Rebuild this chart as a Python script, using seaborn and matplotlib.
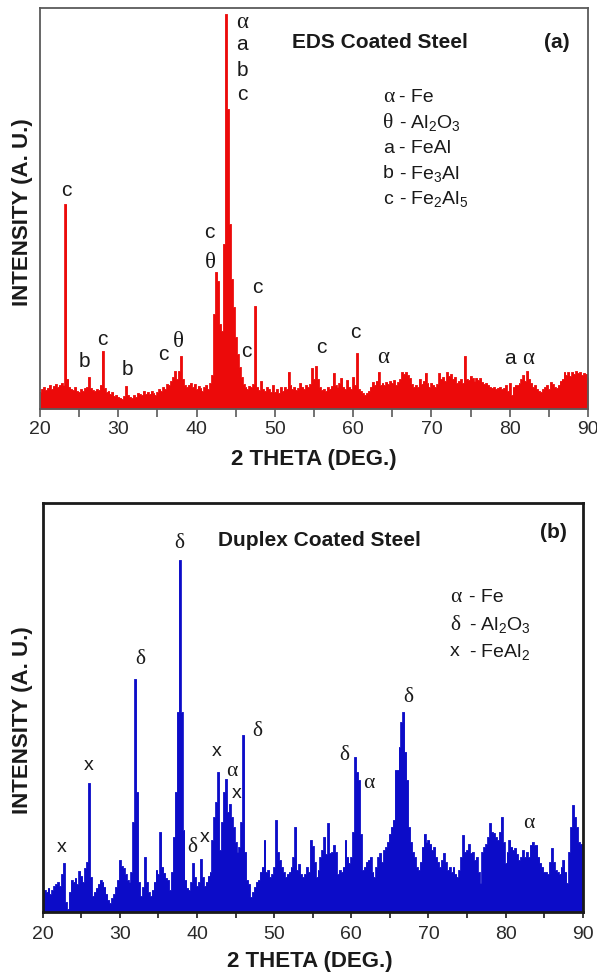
import numpy as np
import pandas as pd
import matplotlib
matplotlib.use("Agg")
import matplotlib.pyplot as plt
from matplotlib.ticker import MultipleLocator
import seaborn as sns

# ---------------- data ----------------
theta = np.arange(20, 90.001, 0.25)          # 2-theta grid (deg)

eds_intensity = [
    17, 20, 22, 19,   21, 24, 20, 23,   25, 22, 24, 26,   24, 205, 30, 22,
    20, 19, 22, 18,   17, 20, 18, 21,   22, 32, 21, 19,   18, 20, 19, 24,
    58, 21, 17, 18,   15, 17, 13, 14,   12, 11, 10, 13,   23, 14, 12, 11,
    14, 12, 16, 15,   14, 18, 15, 17,   15, 18, 16, 14,   17, 20, 18, 22,
    20, 25, 24, 28,   32, 38, 30, 38,   53, 30, 24, 22,   24, 26, 22, 25,
    20, 23, 21, 18,   22, 24, 20, 26,   34, 95, 137, 128, 85, 78, 165, 395,
    300, 185, 130, 102, 72, 55, 42, 32,  25, 22, 20, 23,   22, 25, 103, 22,
    19, 28, 20, 18,   22, 20, 17, 24,   17, 20, 16, 22,   18, 22, 20, 37,
    24, 20, 22, 19,   21, 26, 22, 20,   24, 22, 25, 41,   30, 43, 30, 22,
    19, 20, 18, 22,   20, 23, 36, 24,   22, 26, 31, 22,   20, 29, 22, 20,
    32, 24, 56, 20,   18, 16, 14, 16,   18, 22, 27, 24,   28, 37, 24, 26,
    24, 27, 25, 28,   26, 29, 24, 27,   30, 37, 35, 37,   34, 31, 25, 22,
    24, 22, 30, 25,   28, 36, 26, 22,   26, 24, 22, 25,   36, 30, 32, 28,
    37, 33, 35, 30,   32, 26, 28, 30,   26, 53, 30, 29,   33, 31, 28, 31,
    29, 31, 27, 25,   26, 24, 22, 21,   22, 20, 21, 22,   20, 21, 24, 18,
    26, 14, 22, 24,   24, 26, 30, 34,   28, 38, 30, 26,   22, 24, 20, 18,
    17, 20, 22, 24,   20, 27, 25, 22,   21, 24, 28, 30,   37, 34, 37, 33,
    37, 35, 38, 36,   37, 34, 36, 35,   32,
]

duplex_intensity = [
    19, 22, 20, 24,   18, 22, 26, 28,   30, 26, 38, 49,   10, 3, 20, 32,
    30, 34, 28, 41,   36, 30, 44, 50,   129, 35, 16, 20,  24, 28, 32, 30,
    25, 18, 12, 9,    14, 18, 25, 32,   52, 46, 44, 38,   32, 30, 40, 90,
    233, 120, 30, 16, 25, 55, 30, 20,   16, 22, 30, 42,   38, 80, 45, 39,
    34, 32, 22, 40,   75, 120, 200, 352, 200, 82, 32, 24, 22, 30, 49, 35,
    26, 30, 53, 35,   26, 30, 36, 40,   72, 95, 110, 140, 62, 90, 120, 133,
    100, 108, 95, 85, 70, 60, 65, 90,   177, 60, 32, 28,  15, 20, 25, 30,
    32, 40, 45, 72,   40, 42, 35, 38,   45, 92, 60, 52,   45, 40, 35, 38,
    40, 45, 55, 85,   42, 48, 38, 35,   38, 45, 40, 72,   66, 50, 35, 42,
    55, 62, 75, 58,   89, 59, 60, 67,   60, 38, 42, 40,   45, 72, 55, 49,
    55, 80, 155, 140, 132, 78, 42, 45,  50, 52, 55, 40,   35, 45, 55, 59,
    50, 62, 65, 70,   78, 85, 92, 142,  142, 165, 190, 200, 160, 132, 85, 70,
    60, 55, 45, 42,   50, 65, 78, 70,   72, 68, 62, 65,   55, 50, 45, 52,
    59, 50, 42, 45,   40, 45, 38, 35,   42, 55, 77, 60,   62, 68, 59, 60,
    52, 55, 40, 29,   60, 65, 68, 75,   89, 80, 79, 75,   72, 80, 95, 70,
    49, 60, 72, 65,   62, 64, 58, 52,   55, 62, 55, 60,   55, 67, 70, 67,
    67, 55, 49, 45,   40, 40, 38, 50,   64, 50, 42, 40,   38, 45, 52, 40,
    29, 60, 85, 107,  95, 85, 70, 68,   68,
]

x_ticks = [20, 30, 40, 50, 60, 70, 80, 90]

# peak labels: (text, 2theta, intensity, greek?)
eds_peaks = [
    ("c", 23.32, 219, False), ("b", 25.62, 47, False), ("c", 27.92, 69, False),
    ("b", 31.11, 39, False), ("c", 35.71, 54, False), ("θ", 37.63, 67, True),
    ("c", 41.59, 177, False), ("θ", 41.71, 147, True),
    ("α", 45.80, 387, True), ("a", 45.80, 364, False), ("b", 45.80, 339, False),
    ("c", 45.80, 315, False), ("c", 46.31, 57, False), ("c", 47.72, 121, False),
    ("c", 55.89, 61, False), ("c", 60.23, 76, False), ("α", 63.81, 51, True),
    ("a", 80.03, 50, False), ("α", 82.33, 50, True),
]
duplex_peaks = [
    ("x", 22.50, 64, False), ("x", 26.00, 147, False), ("δ", 32.62, 252, True),
    ("δ", 37.68, 369, True), ("δ", 39.36, 64, True), ("x", 41.05, 75, False),
    ("x", 42.61, 161, False), ("α", 44.55, 141, True), ("x", 45.20, 119, False),
    ("δ", 47.80, 180, True), ("δ", 59.08, 156, True), ("α", 62.32, 128, True),
    ("δ", 67.38, 214, True), ("α", 82.95, 89, True),
]

eds_legend = [("α", "- Fe"), ("θ", "- Al$_2$O$_3$"), ("a", "- FeAl"),
              ("b", "- Fe$_3$Al"), ("c", "- Fe$_2$Al$_5$")]
duplex_legend = [("α", "- Fe"), ("δ", "- Al$_2$O$_3$"), ("x", "- FeAl$_2$")]

# ---------------- style ----------------
sns.set_style("white")
plt.rcParams["font.family"] = ["Liberation Sans", "DejaVu Sans"]
plt.rcParams["mathtext.default"] = "regular"
SANS = ["Liberation Sans", "DejaVu Sans"]
SERIF = ["Liberation Serif", "DejaVu Serif"]
GREEK = "αθδ"

RED = "#ec0a0a"
BLUE = "#0c0cc8"
INK = "#1a1a1a"
W, H = 597, 977

fig = plt.figure(figsize=(W / 100, H / 100), dpi=100)
ax1 = fig.add_axes([40 / W, 1 - 409 / H, 548 / W, 401 / H])
ax2 = fig.add_axes([42.7 / W, 1 - 912 / H, 540 / W, 409 / H])


def fpos(px, py):
    return px / W, 1 - py / H


def draw_panel(ax, values, color, ymax, spine_color, spine_w, tick_len, pad):
    df = pd.DataFrame({"theta": theta, "intensity": values})
    sns.lineplot(data=df, x="theta", y="intensity", ax=ax, color=color,
                 lw=0.6, drawstyle="steps-mid", estimator=None)
    ax.fill_between(df["theta"], df["intensity"], 0, step="mid",
                    color=color, lw=0)
    ax.set_xlim(20, 90)
    ax.set_ylim(0, ymax)
    ax.set_xticks(x_ticks)
    ax.set_xticklabels([str(t) for t in x_ticks])
    ax.xaxis.set_minor_locator(MultipleLocator(5))
    ax.set_yticks([])
    ax.set_xlabel("")
    ax.set_ylabel("")
    ax.tick_params(axis="x", which="both", bottom=True, direction="out",
                   length=tick_len, width=1.2, color=spine_color,
                   labelsize=14, labelcolor="#2a2a2a", pad=pad)
    for s in ax.spines.values():
        s.set_visible(True)
        s.set_color(spine_color)
        s.set_linewidth(spine_w)


draw_panel(ax1, eds_intensity, RED, 401, "#5a5a5a", 1.3, 6, 3)
draw_panel(ax2, duplex_intensity, BLUE, 409, "#1a1a1a", 2.0, 4, 6)

# peak labels
for ax, peaks, size in ((ax1, eds_peaks, 15), (ax2, duplex_peaks, 14)):
    for txt, tx, ty, greek in peaks:
        ax.text(tx, ty, txt, ha="center", va="center",
                fontsize=size + 1.5 if greek else size,
                family=SERIF if greek else SANS, color=INK)

# titles and panel tags
fig.text(*fpos(380, 43), "EDS Coated Steel", ha="center", va="center",
         fontsize=15, fontweight="bold", color=INK)
fig.text(*fpos(557, 43), "(a)", ha="center", va="center",
         fontsize=15, fontweight="bold", color=INK)
fig.text(*fpos(319, 540), "Duplex Coated Steel", ha="center", va="center",
         fontsize=15, fontweight="bold", color=INK)
fig.text(*fpos(553, 533), "(b)", ha="center", va="center",
         fontsize=15, fontweight="bold", color=INK)

# legends
for items, x0, y0, dy, off in ((eds_legend, 383, 98, 25.3, 16),
                               (duplex_legend, 450, 598, 27, 19)):
    for i, (sym, rest) in enumerate(items):
        y = y0 + dy * i
        g = sym in GREEK
        fig.text(*fpos(x0, y), sym, ha="left", va="center",
                 fontsize=15.5 if g else 14, family=SERIF if g else SANS,
                 color=INK)
        fig.text(*fpos(x0 + off, y), rest, ha="left", va="center",
                 fontsize=14, color=INK)

# axis titles
for (px, py) in ((23, 212), (23, 720)):
    fig.text(*fpos(px, py), "INTENSITY (A. U.)", rotation=90, ha="center",
             va="center", fontsize=16, fontweight="bold", color=INK)
for (px, py) in ((314, 459), (310, 962)):
    fig.text(*fpos(px, py), "2 THETA (DEG.)", ha="center", va="center",
             fontsize=16, fontweight="bold", color=INK)

fig.savefig("out.png", dpi=100)
